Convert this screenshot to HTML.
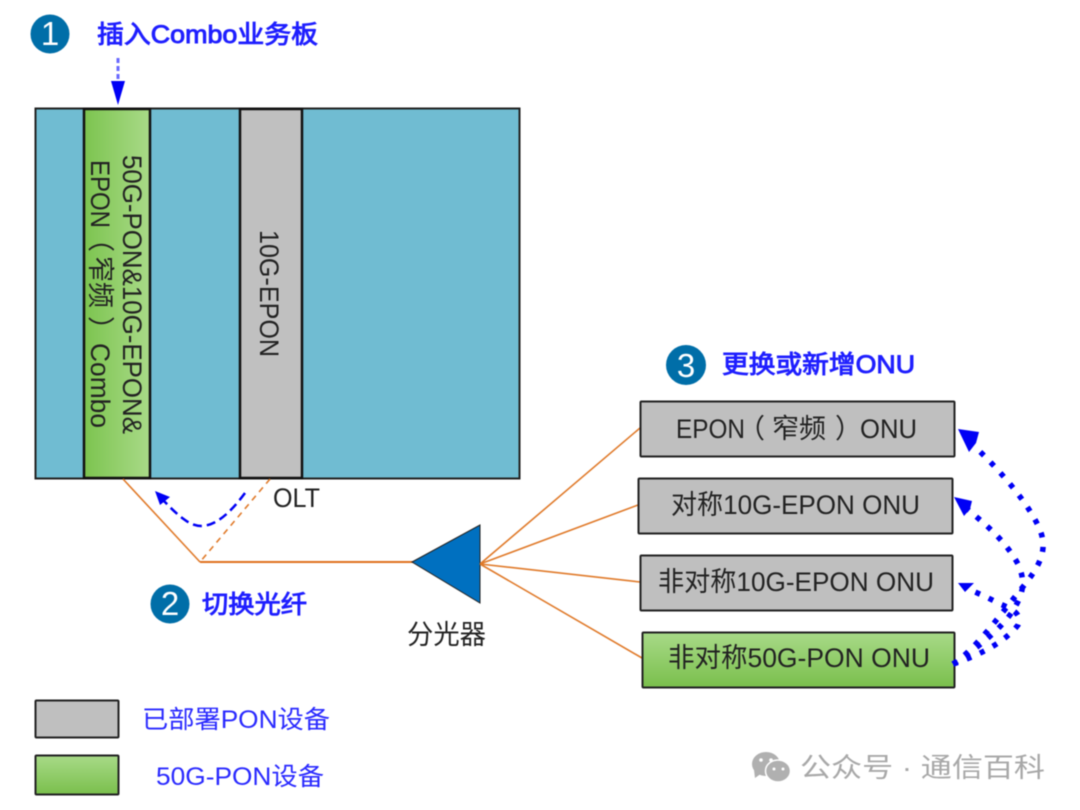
<!DOCTYPE html>
<html><head><meta charset="utf-8">
<style>
html,body{margin:0;padding:0;background:#fff}
svg{display:block;filter:blur(.45px)}
text{font-family:"Liberation Sans","Noto Sans CJK SC",sans-serif}
.k{fill:#222;font-size:27px}
.b{fill:#1f1fff;font-size:25px;stroke:#1f1fff;stroke-width:.9}
.l{fill:#2a2aff;font-size:25px}
.n{fill:#fff;font-size:33px;text-anchor:middle}
.c{fill:#006ea8}
.o{stroke:#e07a2a;fill:none;stroke-width:1.6}
.d{stroke:#0000f5;fill:none;stroke-width:5.5;stroke-dasharray:5 9.5}
</style></head><body>
<svg width="1080" height="810" viewBox="0 0 1080 810" xmlns="http://www.w3.org/2000/svg">
<defs>
<linearGradient id="h" x1="0" x2="1" y1="0" y2="0"><stop offset="0" stop-color="#7cc44f"/><stop offset="1" stop-color="#a9da88"/></linearGradient>
<linearGradient id="v" x1="0" x2="0" y1="0" y2="1"><stop offset="0" stop-color="#a8da88"/><stop offset="1" stop-color="#7abf4c"/></linearGradient>
</defs>
<rect width="1080" height="810" fill="#fff"/>

<circle class="c" cx="50" cy="34" r="19.5"/>
<text class="n" x="50" y="45">1</text>
<text class="b" x="97" y="43" textLength="221" lengthAdjust="spacingAndGlyphs">插入Combo业务板</text>
<path d="M118 58V84" stroke="#6a6aff" stroke-width="3" stroke-dasharray="5 3" fill="none"/>
<polygon points="111,81 125,81 118,105" fill="#0000f5"/>

<rect x="35.500" y="108.500" width="484" height="370" fill="#70bcd2" stroke="#222" stroke-width="2"/>
<rect x="84" y="109" width="66" height="369" fill="url(#h)" stroke="#111" stroke-width="2.500"/>
<rect x="240" y="109" width="62" height="369" fill="#c0c0c0" stroke="#111" stroke-width="2.500"/>
<text class="k" transform="translate(123,155) rotate(90)" textLength="279" lengthAdjust="spacingAndGlyphs">50G-PON&amp;10G-EPON&amp;</text>
<text class="k" transform="translate(91,160) rotate(90)" textLength="68" lengthAdjust="spacingAndGlyphs">EPON</text>
<text class="k" transform="translate(91,225) rotate(90)">（</text>
<text class="k" transform="translate(91,256) rotate(90)" textLength="52" lengthAdjust="spacingAndGlyphs">窄频</text>
<text class="k" transform="translate(91,316) rotate(90)">）</text>
<text class="k" transform="translate(91,343) rotate(90)" textLength="85" lengthAdjust="spacingAndGlyphs">Combo</text>
<text class="k" transform="translate(260,230) rotate(90)" textLength="127" lengthAdjust="spacingAndGlyphs">10G-EPON</text>

<path class="o" d="M123 479L200 562"/>
<path class="o" d="M270 479L200 562" stroke-dasharray="6 5"/>
<path d="M200 562H414" stroke="#e0701c" fill="none" stroke-width="2"/>
<path d="M245 493C225 520 205 535 185 520C175 513 168 505 160 497" fill="none" stroke="#0000f5" stroke-width="2.500" stroke-dasharray="9 5"/>
<polygon points="155,491 170,497 160,505" fill="#0000f5"/>
<text class="k" x="273" y="507" textLength="47" lengthAdjust="spacingAndGlyphs">OLT</text>

<polygon points="412,562 480,525 480,603" fill="#0070c0" stroke="#222" stroke-width="1"/>
<text class="k" x="407" y="644" textLength="79" lengthAdjust="spacingAndGlyphs">分光器</text>

<circle class="c" cx="170" cy="604" r="19.500"/>
<text class="n" x="170" y="615">2</text>
<text class="b" x="202" y="613" textLength="105" lengthAdjust="spacingAndGlyphs">切换光纤</text>

<circle class="c" cx="686" cy="365" r="20"/>
<text class="n" x="686" y="377">3</text>
<text class="b" x="722" y="373" textLength="193" lengthAdjust="spacingAndGlyphs">更换或新增ONU</text>

<path class="o" d="M480 564L640 428M480 564L638 505M480 564L640 582M480 564L642 658"/>

<rect x="640.500" y="401.500" width="314" height="55" rx="1" fill="#bfbfbf" stroke="#222" stroke-width="2"/>
<rect x="638.500" y="478.500" width="314" height="55" rx="1" fill="#bfbfbf" stroke="#222" stroke-width="2"/>
<rect x="640.500" y="555.500" width="312" height="55" rx="1" fill="#bfbfbf" stroke="#222" stroke-width="2"/>
<rect x="642.500" y="632.500" width="312" height="55" rx="1" fill="url(#v)" stroke="#222" stroke-width="2"/>
<text class="k" x="676" y="438" textLength="69" lengthAdjust="spacingAndGlyphs">EPON</text>
<text class="k" x="738" y="438">（</text>
<text class="k" x="772" y="438" textLength="54" lengthAdjust="spacingAndGlyphs">窄频</text>
<text class="k" x="835" y="438">）</text>
<text class="k" x="860" y="438" textLength="57" lengthAdjust="spacingAndGlyphs">ONU</text>
<text class="k" x="671" y="514" textLength="249" lengthAdjust="spacingAndGlyphs">对称10G-EPON ONU</text>
<text class="k" x="658" y="591" textLength="276" lengthAdjust="spacingAndGlyphs">非对称10G-EPON ONU</text>
<text class="k" x="668" y="667" textLength="262" lengthAdjust="spacingAndGlyphs">非对称50G-PON ONU</text>

<path class="d" d="M953 664C975 650 1000 615 1022 588C1040 566 1048 550 1040 530C1030 505 1000 470 972 444"/>
<path class="d" d="M953 664C975 650 1000 630 1012 612C1025 592 1025 580 1018 564C1005 540 985 524 966 508"/>
<path class="d" d="M953 664C980 655 1005 642 1018 625C1022 615 1015 610 1000 604C985 596 975 592 968 589" stroke-width="3.500"/>
<polygon points="958,429 979,432 976,443 969,452" fill="#0000f5"/>
<polygon points="954,497 972,501 970,509 964,516" fill="#0000f5"/>
<polygon points="958,583 974,583 965,592" fill="#0000f5"/>

<rect x="35.500" y="700.500" width="83" height="37" rx="1" fill="#bfbfbf" stroke="#222" stroke-width="2"/>
<rect x="35.500" y="755.500" width="83" height="39" rx="1" fill="url(#v)" stroke="#222" stroke-width="2"/>
<text class="l" x="142" y="728" textLength="188" lengthAdjust="spacingAndGlyphs">已部署PON设备</text>
<text class="l" x="156" y="785" textLength="168" lengthAdjust="spacingAndGlyphs">50G-PON设备</text>

<ellipse cx="766" cy="764" rx="14" ry="12" fill="#b0b0b0"/>
<polygon points="754,770 755,778 762,773" fill="#b0b0b0"/>
<ellipse cx="778" cy="771" rx="12.500" ry="11" fill="#b0b0b0" stroke="#fff" stroke-width="1.500"/>
<circle cx="761" cy="760" r="1.800" fill="#fff"/><circle cx="771" cy="760" r="1.800" fill="#fff"/>
<circle cx="774" cy="769" r="1.500" fill="#fff"/><circle cx="783" cy="769" r="1.500" fill="#fff"/>
<text x="800" y="777" font-size="27" fill="#a8a8a8" textLength="245" lengthAdjust="spacingAndGlyphs">公众号 · 通信百科</text>
</svg>
</body></html>
